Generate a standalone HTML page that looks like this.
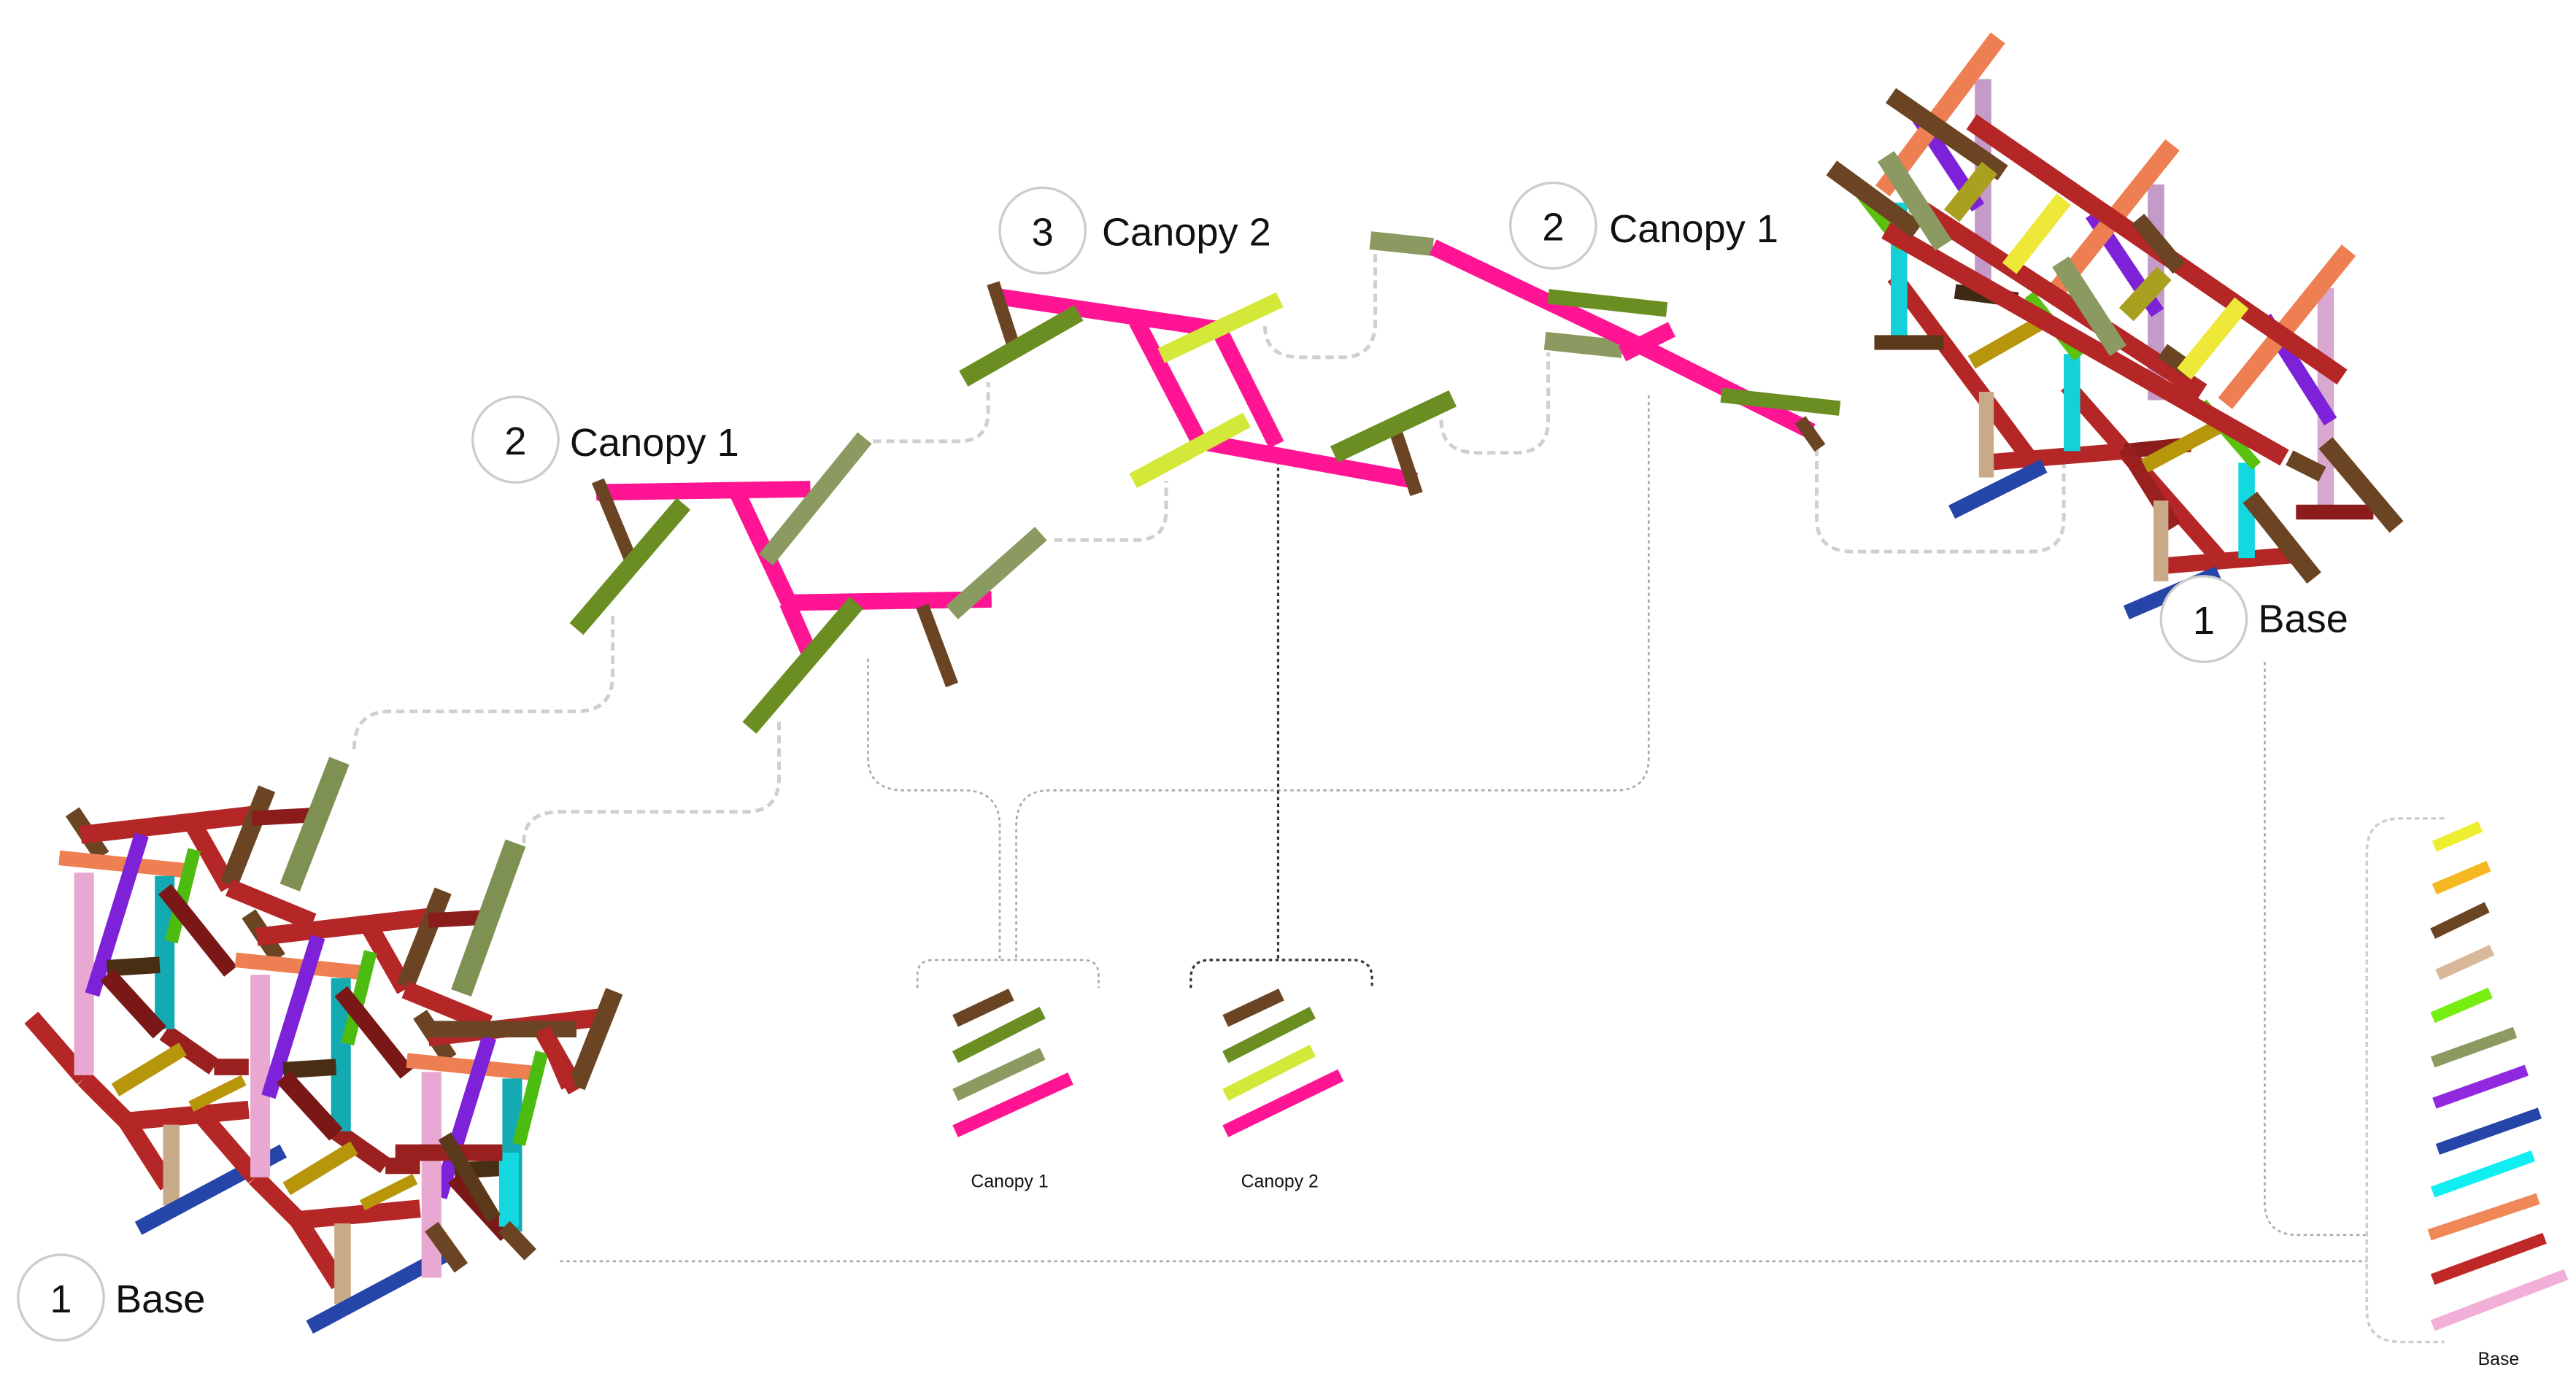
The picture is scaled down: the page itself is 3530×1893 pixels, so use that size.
<!DOCTYPE html>
<html><head><meta charset="utf-8"><style>
html,body{margin:0;padding:0;background:#fff;}
svg{display:block;}
text{font-family:"Liberation Sans",sans-serif;fill:#111;}
</style></head><body>
<svg width="3530" height="1893" viewBox="0 0 1564 838.7" preserveAspectRatio="none" xmlns="http://www.w3.org/2000/svg">
<defs>
<g id="ltopcore" stroke-linecap="butt" fill="none">
  <line x1="44" y1="493" x2="62" y2="520" stroke="#6b4423" stroke-width="10"/>
  <line x1="49" y1="507" x2="153" y2="495" stroke="#b52626" stroke-width="11"/>
  <line x1="118" y1="502" x2="139" y2="539" stroke="#b52626" stroke-width="11"/>
  <line x1="162" y1="479" x2="139" y2="537" stroke="#6b4423" stroke-width="11"/>
  <line x1="36" y1="521" x2="116" y2="529" stroke="#ee7f52" stroke-width="9"/>
  <line x1="51" y1="530" x2="51" y2="653" stroke="#e8a8d2" stroke-width="12"/>
  <line x1="86" y1="507" x2="56" y2="604" stroke="#7d22d8" stroke-width="9"/>
  <line x1="100" y1="532" x2="100" y2="625" stroke="#14aab2" stroke-width="12"/>
  <line x1="118" y1="516" x2="104" y2="572" stroke="#4cbc10" stroke-width="8"/>
  <line x1="65" y1="588" x2="97" y2="586" stroke="#4a2e14" stroke-width="10"/>
  <line x1="65" y1="592" x2="97" y2="627" stroke="#7a1818" stroke-width="11"/>
</g>
<g id="ltop">
  <use href="#ltopcore"/>
  <line x1="139" y1="539" x2="190" y2="560" stroke="#b52626" stroke-width="11"/>
  <line x1="153" y1="497" x2="190" y2="495" stroke="#8a1c1c" stroke-width="9"/>
  <line x1="100" y1="540" x2="140" y2="590" stroke="#7a1818" stroke-width="10"/>
</g>
<g id="lbot" stroke-linecap="butt" fill="none">
  <line x1="19" y1="618" x2="51" y2="655" stroke="#b52626" stroke-width="11"/>
  <line x1="51" y1="655" x2="77" y2="681" stroke="#b52626" stroke-width="11"/>
  <line x1="77" y1="681" x2="151" y2="674" stroke="#b52626" stroke-width="11"/>
  <line x1="77" y1="681" x2="102" y2="720" stroke="#b52626" stroke-width="11"/>
  <line x1="100" y1="627" x2="130" y2="648" stroke="#9a2020" stroke-width="11"/>
  <line x1="130" y1="648" x2="151" y2="648" stroke="#9a2020" stroke-width="10"/>
  <line x1="70" y1="662" x2="111" y2="637" stroke="#b8960c" stroke-width="9"/>
  <line x1="116" y1="672" x2="148" y2="656" stroke="#b8960c" stroke-width="7"/>
  <line x1="104" y1="683" x2="104" y2="732" stroke="#c8aa88" stroke-width="10"/>
  <line x1="84" y1="746" x2="172" y2="699" stroke="#2545a8" stroke-width="9"/>
</g>
</defs>

<g fill="none" stroke="#cfcfcf" stroke-width="2.2" stroke-dasharray="5 3">
  <path d="M215,455 Q215,432 237,432 L350,432 Q372,432 372,410 L372,372"/>
  <path d="M318,512 Q318,493 340,493 L453,493 Q473,493 473,472 L473,436"/>
  <path d="M530,268 L582,268 Q600,268 600,250 L600,232"/>
  <path d="M640,328 L690,328 Q708,328 708,310 L708,292"/>
  <path d="M768,198 Q768,217 790,217 L815,217 Q835,217 835,195 L835,152"/>
  <path d="M875,255 Q875,275 897,275 L920,275 Q940,275 940,255 L940,214"/>
  <path d="M1103,272 L1103,315 Q1103,335 1125,335 L1233,335 Q1253,335 1253,315 L1253,272"/>
</g>
<g fill="none" stroke="#aaaaaa" stroke-width="1.2" stroke-dasharray="2 2">
  <path d="M527,400 L527,460 Q527,480 549,480 L585,480 Q607,480 607,502 L607,582"/>
  <path d="M1001,240 L1001,460 Q1001,480 981,480 L637,480 Q617,480 617,502 L617,582"/>
  <path d="M557,600 L557,592 Q557,583 567,583 L657,583 Q667,583 667,592 L667,600"/>
  <path d="M1375,402 L1375,730 Q1375,750 1395,750 L1437,750"/>
  <path d="M340,766 L1437,766"/>
</g>
<g fill="none" stroke="#cfcfcf" stroke-width="1.6" stroke-dasharray="3 2">
  <path d="M1484,497 L1458,497 Q1437,497 1437,517 L1437,796 Q1437,815 1458,815 L1484,815"/>
</g>
<g fill="none" stroke="#333" stroke-width="1.4" stroke-dasharray="2 2">
  <path d="M776,280 L776,583"/>
  <path d="M723,600 L723,594 Q723,583 735,583 L821,583 Q833,583 833,594 L833,600"/>
</g>

<g fill="none" stroke-linecap="butt">
  <line x1="362" y1="299" x2="492" y2="297" stroke="#ff1493" stroke-width="10"/>
  <line x1="448" y1="300" x2="480" y2="368" stroke="#ff1493" stroke-width="10"/>
  <line x1="478" y1="366" x2="602" y2="364" stroke="#ff1493" stroke-width="10"/>
  <line x1="478" y1="366" x2="492" y2="398" stroke="#ff1493" stroke-width="10"/>
  <line x1="363" y1="292" x2="383" y2="340" stroke="#6b4423" stroke-width="8"/>
  <line x1="560" y1="368" x2="578" y2="416" stroke="#6b4423" stroke-width="8"/>
  <line x1="350" y1="382" x2="415" y2="306" stroke="#6b8e23" stroke-width="11"/>
  <line x1="455" y1="442" x2="520" y2="366" stroke="#6b8e23" stroke-width="11"/>
  <line x1="465" y1="340" x2="525" y2="266" stroke="#8a9a60" stroke-width="11"/>
  <line x1="578" y1="372" x2="632" y2="324" stroke="#8a9a60" stroke-width="11"/>
</g>
<g fill="none" stroke-linecap="butt">
  <line x1="605" y1="180" x2="740" y2="200" stroke="#ff1493" stroke-width="10"/>
  <line x1="690" y1="195" x2="728" y2="268" stroke="#ff1493" stroke-width="10"/>
  <line x1="740" y1="200" x2="775" y2="270" stroke="#ff1493" stroke-width="10"/>
  <line x1="728" y1="268" x2="860" y2="292" stroke="#ff1493" stroke-width="10"/>
  <line x1="603" y1="172" x2="616" y2="212" stroke="#6b4423" stroke-width="8"/>
  <line x1="845" y1="255" x2="860" y2="300" stroke="#6b4423" stroke-width="8"/>
  <line x1="585" y1="230" x2="655" y2="190" stroke="#6b8e23" stroke-width="11"/>
  <line x1="810" y1="276" x2="882" y2="242" stroke="#6b8e23" stroke-width="11"/>
  <line x1="705" y1="216" x2="777" y2="182" stroke="#d4e83a" stroke-width="10"/>
  <line x1="688" y1="292" x2="757" y2="255" stroke="#d4e83a" stroke-width="10"/>
</g>
<g fill="none" stroke-linecap="butt">
  <line x1="832" y1="146" x2="870" y2="150" stroke="#8a9a60" stroke-width="11"/>
  <line x1="938" y1="207" x2="985" y2="212" stroke="#8a9a60" stroke-width="11"/>
  <line x1="870" y1="150" x2="1000" y2="212" stroke="#ff1493" stroke-width="10"/>
  <line x1="1000" y1="212" x2="1100" y2="262" stroke="#ff1493" stroke-width="10"/>
  <line x1="985" y1="215" x2="1015" y2="200" stroke="#ff1493" stroke-width="10"/>
  <line x1="940" y1="180" x2="1012" y2="188" stroke="#6b8e23" stroke-width="9"/>
  <line x1="1045" y1="240" x2="1117" y2="248" stroke="#6b8e23" stroke-width="9"/>
  <line x1="1093" y1="255" x2="1105" y2="272" stroke="#6b4423" stroke-width="8"/>
</g>

<use href="#lbot"/>
<use href="#lbot" transform="translate(104,60)"/>
<use href="#ltop"/>
<use href="#ltop" transform="translate(107,62)"/>
<use href="#ltopcore" transform="translate(211,123)"/>
<g stroke-linecap="butt" fill="none">
  <line x1="176" y1="539" x2="206" y2="462" stroke="#7f9152" stroke-width="13"/>
  <line x1="280" y1="603" x2="313" y2="512" stroke="#7f9152" stroke-width="13"/>
  <line x1="260" y1="625" x2="350" y2="625" stroke="#6b4423" stroke-width="10"/>
  <line x1="330" y1="625" x2="345" y2="660" stroke="#b52626" stroke-width="9"/>
  <line x1="262" y1="651" x2="262" y2="776" stroke="#e8a8d2" stroke-width="12"/>
  <line x1="309" y1="700" x2="309" y2="745" stroke="#14d8e0" stroke-width="12"/>
  <line x1="262" y1="745" x2="280" y2="770" stroke="#6b4423" stroke-width="10"/>
  <line x1="306" y1="745" x2="322" y2="762" stroke="#6b4423" stroke-width="10"/>
  <line x1="240" y1="700" x2="305" y2="700" stroke="#9a2020" stroke-width="10"/>
  <line x1="270" y1="690" x2="300" y2="740" stroke="#5a3a1a" stroke-width="9"/>
</g>

<g stroke-linecap="butt" fill="none">
  <line x1="1204" y1="48" x2="1204" y2="180" stroke="#c49ac8" stroke-width="10"/>
  <line x1="1309" y1="112" x2="1309" y2="243" stroke="#c49ac8" stroke-width="10"/>
  <line x1="1412" y1="175" x2="1412" y2="309" stroke="#d9a8d0" stroke-width="10"/>
  <line x1="1162" y1="67" x2="1201" y2="126" stroke="#7d22d8" stroke-width="9"/>
  <line x1="1270" y1="130" x2="1310" y2="190" stroke="#7d22d8" stroke-width="9"/>
  <line x1="1375" y1="193" x2="1415" y2="256" stroke="#7d22d8" stroke-width="9"/>
  <line x1="1213" y1="23" x2="1143" y2="116" stroke="#ee7f52" stroke-width="11"/>
  <line x1="1319" y1="88" x2="1248" y2="177" stroke="#ee7f52" stroke-width="11"/>
  <line x1="1426" y1="152" x2="1351" y2="245" stroke="#ee7f52" stroke-width="11"/>
  <line x1="1150" y1="168" x2="1232" y2="278" stroke="#b52626" stroke-width="10"/>
  <line x1="1255" y1="234" x2="1349" y2="341" stroke="#b52626" stroke-width="10"/>
  <line x1="1204" y1="281" x2="1290" y2="274" stroke="#b52626" stroke-width="10"/>
  <line x1="1309" y1="344" x2="1394" y2="337" stroke="#b52626" stroke-width="10"/>
  <line x1="1290" y1="274" x2="1330" y2="270" stroke="#8a1c1c" stroke-width="9"/>
  <line x1="1394" y1="311" x2="1441" y2="311" stroke="#8a1c1c" stroke-width="9"/>
  <line x1="1290" y1="272" x2="1320" y2="320" stroke="#9a2020" stroke-width="9"/>
  <line x1="1153" y1="123" x2="1153" y2="208" stroke="#14d0d8" stroke-width="10"/>
  <line x1="1258" y1="215" x2="1258" y2="274" stroke="#14d0d8" stroke-width="10"/>
  <line x1="1364" y1="281" x2="1364" y2="339" stroke="#14d8e0" stroke-width="10"/>
  <line x1="1206" y1="238" x2="1206" y2="290" stroke="#c8aa88" stroke-width="9"/>
  <line x1="1312" y1="304" x2="1312" y2="353" stroke="#c8aa88" stroke-width="9"/>
  <line x1="1185" y1="311" x2="1241" y2="283" stroke="#2545a8" stroke-width="9"/>
  <line x1="1291" y1="372" x2="1347" y2="348" stroke="#2545a8" stroke-width="9"/>
  <line x1="1197" y1="220" x2="1239" y2="196" stroke="#b8960c" stroke-width="9"/>
  <line x1="1302" y1="283" x2="1347" y2="259" stroke="#b8960c" stroke-width="9"/>
  <line x1="1187" y1="177" x2="1225" y2="182" stroke="#3e2a14" stroke-width="9"/>
  <line x1="1138" y1="208" x2="1180" y2="208" stroke="#5a3a1a" stroke-width="9"/>
  <line x1="1127" y1="114" x2="1155" y2="150" stroke="#5bc010" stroke-width="7"/>
  <line x1="1232" y1="179" x2="1262" y2="217" stroke="#5bc010" stroke-width="7"/>
  <line x1="1337" y1="245" x2="1370" y2="283" stroke="#5bc010" stroke-width="7"/>
  <line x1="1162" y1="124" x2="1337" y2="238" stroke="#b52626" stroke-width="11"/>
  <line x1="1145" y1="140" x2="1387" y2="278" stroke="#b52626" stroke-width="11"/>
  <line x1="1197" y1="74" x2="1422" y2="229" stroke="#b52626" stroke-width="11"/>
  <line x1="1148" y1="58" x2="1216" y2="105" stroke="#6b4423" stroke-width="11"/>
  <line x1="1112" y1="102" x2="1164" y2="140" stroke="#6b4423" stroke-width="11"/>
  <line x1="1298" y1="133" x2="1323" y2="163" stroke="#6b4423" stroke-width="10"/>
  <line x1="1412" y1="269" x2="1455" y2="320" stroke="#6b4423" stroke-width="11"/>
  <line x1="1366" y1="302" x2="1405" y2="351" stroke="#6b4423" stroke-width="11"/>
  <line x1="1390" y1="278" x2="1410" y2="288" stroke="#6b4423" stroke-width="10"/>
  <line x1="1313" y1="213" x2="1330" y2="225" stroke="#6b4423" stroke-width="10"/>
  <line x1="1145" y1="95" x2="1180" y2="149" stroke="#8a9a60" stroke-width="12"/>
  <line x1="1251" y1="159" x2="1286" y2="213" stroke="#8a9a60" stroke-width="12"/>
  <line x1="1185" y1="131" x2="1208" y2="102" stroke="#aaa020" stroke-width="12"/>
  <line x1="1291" y1="191" x2="1314" y2="166" stroke="#aaa020" stroke-width="12"/>
  <line x1="1220" y1="163" x2="1253" y2="121" stroke="#eee838" stroke-width="11"/>
  <line x1="1326" y1="227" x2="1361" y2="184" stroke="#eee838" stroke-width="11"/>
</g>

<g stroke-linecap="butt" fill="none" stroke-width="8">
  <line x1="580" y1="620" x2="614" y2="604" stroke="#6b4423"/>
  <line x1="580" y1="642" x2="633" y2="615" stroke="#6b8e23"/>
  <line x1="580" y1="665" x2="633" y2="640" stroke="#8a9a60"/>
  <line x1="580" y1="687" x2="650" y2="655" stroke="#ff1493"/>
  <line x1="744" y1="620" x2="778" y2="604" stroke="#6b4423"/>
  <line x1="744" y1="642" x2="797" y2="615" stroke="#6b8e23"/>
  <line x1="744" y1="665" x2="797" y2="638" stroke="#d4e83a"/>
  <line x1="744" y1="687" x2="814" y2="653" stroke="#ff1493"/>
</g>
<g stroke-linecap="butt" fill="none" stroke-width="7">
  <line x1="1478" y1="514" x2="1506" y2="502" stroke="#eeee30"/>
  <line x1="1478" y1="540" x2="1511" y2="526" stroke="#f5b820"/>
  <line x1="1477" y1="567" x2="1510" y2="551" stroke="#6b4423"/>
  <line x1="1480" y1="592" x2="1513" y2="577" stroke="#d8b898"/>
  <line x1="1477" y1="618" x2="1512" y2="603" stroke="#77ee11"/>
  <line x1="1477" y1="645" x2="1527" y2="627" stroke="#8a9a60"/>
  <line x1="1478" y1="670" x2="1534" y2="650" stroke="#9028e0"/>
  <line x1="1480" y1="698" x2="1542" y2="676" stroke="#2545a8"/>
  <line x1="1477" y1="724" x2="1538" y2="702" stroke="#11eef2"/>
  <line x1="1475" y1="750" x2="1541" y2="728" stroke="#f08858"/>
  <line x1="1477" y1="777" x2="1545" y2="752" stroke="#c02828"/>
  <line x1="1477" y1="805" x2="1558" y2="774" stroke="#f2b0d8"/>
</g>

<g fill="#fff" stroke="#cccccc" stroke-width="1.5">
  <circle cx="37" cy="788" r="26"/>
  <circle cx="313" cy="267" r="26"/>
  <circle cx="633" cy="140" r="26"/>
  <circle cx="943" cy="137" r="26"/>
  <circle cx="1338" cy="376" r="26"/>
</g>
<g font-size="24">
  <text x="37" y="797" text-anchor="middle">1</text><text x="70" y="797">Base</text>
  <text x="313" y="276" text-anchor="middle">2</text><text x="346" y="277">Canopy 1</text>
  <text x="633" y="149" text-anchor="middle">3</text><text x="669" y="149">Canopy 2</text>
  <text x="943" y="146" text-anchor="middle">2</text><text x="977" y="147">Canopy 1</text>
  <text x="1338" y="385" text-anchor="middle">1</text><text x="1371" y="384">Base</text>
</g>
<g font-size="11">
  <text x="613" y="721" text-anchor="middle">Canopy 1</text>
  <text x="777" y="721" text-anchor="middle">Canopy 2</text>
  <text x="1517" y="829" text-anchor="middle">Base</text>
</g>
</svg>
</body></html>
